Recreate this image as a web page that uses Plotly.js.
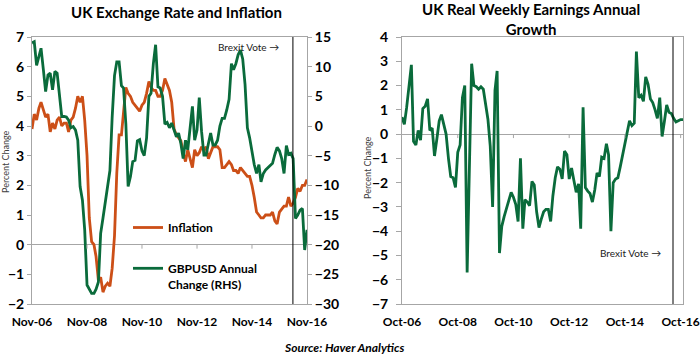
<!DOCTYPE html>
<html>
<head>
<meta charset="utf-8">
<script src="https://cdn.plot.ly/plotly-3.0.1.min.js"></script>
<style>
  html, body { margin: 0; padding: 0; background: #fff; }
  #chart { width: 700px; height: 356px; }
</style>
</head>
<body>
<div id="chart"></div>
<script>
// ---------- DATA ----------
// Left chart: monthly, Nov-2006 .. Nov-2016
const leftStart = [2006, 11];
const inflation = [
  3.9, 4.4,
  4.2, 4.6, 4.8, 4.5, 4.3, 4.4, 3.8, 4.1, 3.9, 4.2, 4.3, 4.0,
  4.1, 4.1, 3.8, 4.2, 4.3, 4.6, 5.0, 4.8, 5.0, 4.2, 3.0, 0.9,
  0.1, 0.0, -0.4, -1.2, -1.1, -1.6, -1.4, -1.3, -1.4, -0.8, 0.3, 2.4,
  3.7, 3.7, 4.4, 5.3, 5.1, 5.0, 4.8, 4.7, 4.6, 4.5, 4.7, 4.8,
  5.1, 5.5, 5.3, 5.2, 5.2, 5.0, 5.0, 5.2, 5.6, 5.4, 5.2, 4.8,
  3.9, 3.7, 3.6, 3.5, 3.1, 2.8, 3.2, 2.9, 2.6, 3.2, 3.0, 3.1,
  3.3, 3.2, 3.3, 2.9, 3.1, 3.3, 3.3, 3.3, 3.2, 2.6, 2.6, 2.7,
  2.8, 2.7, 2.5, 2.5, 2.4, 2.6, 2.5, 2.4, 2.3, 2.3, 2.0, 1.6,
  1.1, 1.0, 0.9, 0.9, 1.0, 1.0, 1.0, 1.1, 0.8, 0.7, 1.1, 1.2,
  1.3, 1.3, 1.6, 1.3, 1.4, 1.6, 1.9, 1.8, 2.0, 2.0, 2.2
];
const gbpusd = [
  14.0, 14.2, 10.2, 12.0, 13.1, 9.5, 5.8, 8.6, 8.9, 6.1,
  9.2, 8.9, 4.5, 1.6, 1.6, 1.5, 1.0, -0.3, -0.1, -0.7,
  -2.4, -10.2, -12.5, -17.5, -26.8, -27.5, -28.2, -28.2, -27.5, -26.3,
  -18.1, -15.5, -13.0, -10.2, -7.5, 1.5, 8.5, 10.8, 10.8, 6.8,
  6.4, 0.3, -10.2, -8.5, -6.0, -5.8, -2.5, -2.3, -4.2, -5.0,
  -2.0, 5.0, 5.5, 10.5, 13.7, 6.6, 6.4, 5.0, 0.3, 0.6,
  -0.3, 0.5, -0.5, -1.8, -1.2, -3.0, -5.5, -2.4, -4.0, 0.0,
  3.3, -2.4, -0.7, 4.8, -1.0, -4.9, -4.9, -3.0, -1.2, -3.2,
  -3.2, -2.4, 0.0, 1.3, 1.3, 2.7, 4.5, 10.5, 9.5, 10.5,
  12.0, 12.8, 11.3, 7.0, -0.3, -2.0, -4.5, -6.5, -8.0, -6.5,
  -9.4, -8.0, -7.4, -7.0, -6.7, -6.3, -4.8, -3.6, -4.2, -5.5,
  -8.0, -3.3, -4.8, -4.6, -5.5, -15.6, -15.0, -14.2, -13.9, -20.9,
  -17.5
];
const leftTickDates = ['2006-11-01', '2008-11-01', '2010-11-01', '2012-11-01', '2014-11-01', '2016-11-01'];
const leftTickLabels = ['Nov-06', 'Nov-08', 'Nov-10', 'Nov-12', 'Nov-14', 'Nov-16'];
const leftBrexitDate = '2016-04-28';

// Right chart: monthly, Oct-2006 .. Nov-2016
const rightStart = [2006, 10];
const earnings = [
  0.7, 0.4, 1.1, 1.9, 2.85, -0.3, -0.45, 0.15, -0.25, 1.05,
  1.15, 1.45, 0.15, 0.25, -0.9, -0.2, 0.55, 0.8, 0.4, 0.0,
  -1.0, -1.75, -1.8, -2.2, -0.75, -0.45, 1.5, 2.0, -5.7, -1.4,
  2.9, 2.0, 1.95, 1.85, 1.95, 1.85, 1.3, 0.6, -0.5, -3.0,
  1.8, 2.6, -4.9, -3.8, -3.4, -3.1, -2.8, -2.4, -2.6, -2.9,
  -3.6, -1.0, -3.9, -2.7, -2.8, -2.95, -1.95, -2.1, -3.2, -3.85,
  -3.5, -3.2, -3.1, -3.1, -3.6, -2.55, -1.8, -1.35, -1.45, -1.85,
  -0.7, -0.85, -1.85, -1.4, -1.9, -2.4, -2.05, -3.9, 1.1, -2.2,
  -2.35, -2.45, -2.8, -2.3, -1.6, -1.75, -0.95, -1.0, -0.4, -0.85,
  -4.0, -2.0, -1.85, -1.8, -1.35, -0.85, -0.4, 0.1, 0.55, 0.35,
  0.45, 3.4, 1.5, 1.6, 1.35, 2.36, 2.05, 1.45, 1.3, 1.0,
  0.65, 1.5, -0.1, 0.5, 1.2, 0.9, 0.85, 0.65, 0.5, 0.55,
  0.6, 0.6
];
const rightTickDates = ['2006-10-01', '2008-10-01', '2010-10-01', '2012-10-01', '2014-10-01', '2016-10-01'];
const rightTickLabels = ['Oct-06', 'Oct-08', 'Oct-10', 'Oct-12', 'Oct-14', 'Oct-16'];
const rightBrexitDate = '2016-06-23';

// ---------- helpers ----------
function monthSeq(start, n) {
  const out = [];
  let y = start[0], m = start[1];
  for (let i = 0; i < n; i++) {
    out.push(y + '-' + String(m).padStart(2, '0') + '-01');
    m++; if (m > 12) { m = 1; y++; }
  }
  return out;
}
const leftDates = monthSeq(leftStart, inflation.length);
const rightDates = monthSeq(rightStart, earnings.length);

const ORANGE = '#cc4f17';
const GREEN = '#0a6b3b';
const AXIS = '#a6a6a6';
const FONT = 'Lato, "Open Sans", sans-serif';

const W = 700, H = 356;
const px = v => v / W;
const py = v => 1 - v / H;
const yDom = [py(304), py(37)];

const traces = [
  { x: leftDates, y: inflation, type: 'scatter', mode: 'lines', name: 'Inflation',
    line: { color: ORANGE, width: 2.8 }, xaxis: 'x', yaxis: 'y', legend: 'legend' },
  { x: leftDates, y: gbpusd, type: 'scatter', mode: 'lines', name: 'GBPUSD Annual<br>Change (RHS)',
    line: { color: GREEN, width: 2.8 }, xaxis: 'x', yaxis: 'y2', legend: 'legend2' },
  { x: rightDates, y: earnings, type: 'scatter', mode: 'lines', name: 'Real Weekly Earnings',
    line: { color: GREEN, width: 2.8 }, xaxis: 'x2', yaxis: 'y3', showlegend: false }
];

const tickFontY = { family: FONT, size: 14, color: '#000', weight: 'bold' };
const tickFontX = { family: FONT, size: 12, color: '#000', weight: 'bold' };

const shapes = [];
// small tick marks on the zero lines
leftTickDates.slice(1, -1).forEach(d => shapes.push({
  type: 'line', xref: 'x', yref: 'y', x0: d, x1: d, ysizemode: 'pixel', yanchor: 0, y0: 0, y1: -4,
  line: { color: AXIS, width: 1 } }));
rightTickDates.slice(1).forEach(d => shapes.push({
  type: 'line', xref: 'x2', yref: 'y3', x0: d, x1: d, ysizemode: 'pixel', yanchor: 0, y0: 0, y1: -4,
  line: { color: AXIS, width: 1 } }));
// Brexit vote lines
shapes.push({ type: 'line', xref: 'x', yref: 'y domain', x0: leftBrexitDate, x1: leftBrexitDate, y0: 0, y1: 1,
  line: { color: '#000', width: 1 }, layer: 'above' });
shapes.push({ type: 'line', xref: 'x2', yref: 'y3 domain', x0: rightBrexitDate, x1: rightBrexitDate, y0: 0, y1: 1,
  line: { color: '#000', width: 1 }, layer: 'above' });

const layout = {
  width: W, height: H,
  margin: { l: 0, r: 0, t: 0, b: 0, pad: 0 },
  paper_bgcolor: '#fff', plot_bgcolor: '#fff',
  font: { family: FONT, color: '#000' },
  xaxis: {
    domain: [px(32), px(307)], anchor: 'y', type: 'date',
    range: ['2006-11-01', '2016-11-01'],
    tickmode: 'array', tickvals: leftTickDates, ticktext: leftTickLabels,
    ticks: 'outside', ticklen: 7, tickcolor: 'rgba(0,0,0,0)',
    tickfont: tickFontX, showgrid: false, zeroline: false,
    showline: true, mirror: true, linecolor: AXIS, linewidth: 1, automargin: false
  },
  yaxis: {
    domain: yDom, anchor: 'x', range: [-2, 7], dtick: 1, tick0: 0,
    ticks: 'outside', ticklen: 4, tickcolor: AXIS, tickfont: tickFontY,
    showgrid: false, zeroline: true, zerolinecolor: AXIS, zerolinewidth: 1,
    showline: true, linecolor: AXIS, linewidth: 1, automargin: false
  },
  yaxis2: {
    overlaying: 'y', side: 'right', anchor: 'x', range: [-30, 15], dtick: 5, tick0: 0,
    ticks: 'outside', ticklen: 4, tickcolor: AXIS, tickfont: tickFontY,
    showgrid: false, zeroline: false,
    showline: true, linecolor: AXIS, linewidth: 1, automargin: false
  },
  xaxis2: {
    domain: [px(402), px(683)], anchor: 'y3', type: 'date',
    range: ['2006-10-01', '2016-11-01'],
    tickmode: 'array', tickvals: rightTickDates, ticktext: rightTickLabels,
    ticks: 'outside', ticklen: 7, tickcolor: 'rgba(0,0,0,0)',
    tickfont: tickFontX, showgrid: false, zeroline: false,
    showline: true, mirror: true, linecolor: AXIS, linewidth: 1, automargin: false
  },
  yaxis3: {
    domain: yDom, anchor: 'x2', range: [-7, 4], dtick: 1, tick0: 0,
    ticks: 'outside', ticklen: 5, tickcolor: AXIS, tickfont: tickFontY, ticklabelstandoff: 5,
    showgrid: false, zeroline: true, zerolinecolor: AXIS, zerolinewidth: 1,
    showline: true, mirror: true, linecolor: AXIS, linewidth: 1, automargin: false
  },
  legend: {
    x: px(128), y: py(213), xanchor: 'left', yanchor: 'top',
    bgcolor: 'rgba(0,0,0,0)', borderwidth: 0,
    font: { family: FONT, size: 12, color: '#000', weight: 'bold' }
  },
  legend2: {
    x: px(128), y: py(254), xanchor: 'left', yanchor: 'top', valign: 'top',
    bgcolor: 'rgba(0,0,0,0)', borderwidth: 0,
    font: { family: FONT, size: 12, color: '#000', weight: 'bold' }
  },
  shapes: shapes,
  annotations: [
    { text: 'UK Exchange Rate and Inflation', xref: 'paper', yref: 'paper', x: px(176), y: py(12),
      xanchor: 'center', yanchor: 'middle', showarrow: false,
      font: { family: FONT, size: 15, color: '#000', weight: 'bold' } },
    { text: 'UK Real Weekly Earnings Annual<br>Growth', xref: 'paper', yref: 'paper', x: px(531), y: py(19),
      xanchor: 'center', yanchor: 'middle', showarrow: false,
      font: { family: FONT, size: 15, color: '#000', weight: 'bold' } },
    { text: 'Brexit Vote →', xref: 'paper', yref: 'paper', x: px(281), y: py(47),
      xanchor: 'right', yanchor: 'middle', showarrow: false,
      font: { family: FONT, size: 10, color: '#222' } },
    { text: 'Brexit Vote →', xref: 'paper', yref: 'paper', x: px(663), y: py(253),
      xanchor: 'right', yanchor: 'middle', showarrow: false,
      font: { family: FONT, size: 10, color: '#222' } },
    { text: 'Percent Change', xref: 'paper', yref: 'paper', x: px(5), y: py(162), textangle: -90,
      xanchor: 'center', yanchor: 'middle', showarrow: false,
      font: { family: FONT, size: 9, color: '#404040' } },
    { text: 'Percent Change', xref: 'paper', yref: 'paper', x: px(367), y: py(167), textangle: -90,
      xanchor: 'center', yanchor: 'middle', showarrow: false,
      font: { family: FONT, size: 9, color: '#404040' } },
    { text: 'Source: Haver Analytics', xref: 'paper', yref: 'paper', x: px(344), y: py(347),
      xanchor: 'center', yanchor: 'middle', showarrow: false,
      font: { family: FONT, size: 12, color: '#000', weight: 'bold', style: 'italic' } }
  ]
};

Plotly.newPlot('chart', traces, layout, { staticPlot: true, displayModeBar: false });
</script>
</body>
</html>
